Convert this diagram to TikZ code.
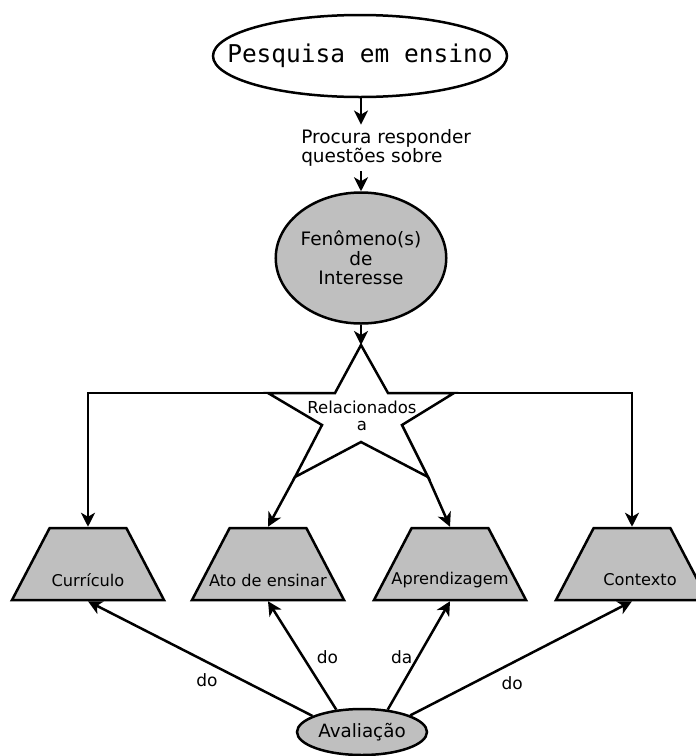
\documentclass[tikz,border=0pt]{standalone}
\usepackage{fontspec}
\setmainfont{DejaVu Sans}
\setmonofont{DejaVu Sans Mono}
\usetikzlibrary{shapes.geometric,arrows.meta}
\definecolor{boxgray}{RGB}{191,191,191}
\tikzset{
  arr/.style={-{Stealth[length=14pt,width=14pt,inset=4pt]}, line width=2.5pt},
  oval/.style={ellipse, draw, line width=2.5pt, inner sep=0pt},
  trapbox/.style={trapezium, draw, fill=boxgray, line width=2.5pt,
    trapezium stretches=true, minimum width=152pt, minimum height=72pt,
    trapezium left angle=62.5, trapezium right angle=62.5, inner sep=1pt},
  traptxt/.style={font=\fontsize{16.2}{18}\selectfont, inner sep=0pt},
  edgetxt/.style={font=\fontsize{17}{19}\selectfont, inner sep=0pt}
}
\begin{document}
\begin{tikzpicture}[x=1pt,y=-1pt,line width=2.5pt]
\useasboundingbox (0,0) rectangle (696,756);

% top question
\node[oval, minimum width=294pt, minimum height=82pt,
      font=\ttfamily\fontsize{24.5}{26}\selectfont] (top) at (360,56)
      {\makebox[0pt]{Pesquisa em ensino}};
\node[anchor=west, align=left, inner sep=4pt,
      font=\fontsize{18.5}{18.5}\selectfont] (proc) at (296,148)
      {Procura responder\\questões sobre};
\node[oval, fill=boxgray, minimum width=158pt, minimum height=131pt,
      align=center, font=\fontsize{18.5}{19.5}\selectfont] (fen) at (361,258)
      {Fenômeno(s)\\de\\Interesse};

\draw[arr] (top.south -| fen.north) -- (proc.north -| fen.north);
\draw[arr] (proc.south -| fen.north) -- (fen.north);

% star "Relacionados a"
\coordinate (T)   at (361,345);
\coordinate (uli) at (335,393);
\coordinate (L)   at (268,393);
\coordinate (li)  at (322,425);
\coordinate (LL)  at (295,477);
\coordinate (bi)  at (361,442);
\coordinate (LR)  at (428,477);
\coordinate (ri)  at (402,425);
\coordinate (R)   at (454,393);
\coordinate (uri) at (388,393);
\draw[fill=white, line join=miter]
  (T) -- (uri) -- (R) -- (ri) -- (LR) -- (bi) -- (LL) -- (li) -- (L) -- (uli) -- cycle;
\node[align=center, inner sep=0pt, font=\fontsize{16.5}{17.5}\selectfont] (rel) at (362,416)
  {Relacionados\\a};

\draw[arr] (fen.south) -- (T);

% the four aspects
\node[trapbox] (cur) at (88,564) {\phantom{x}};
\node[trapbox] (ato) at (268,564) {\phantom{x}};
\node[trapbox] (apr) at (450,564) {\phantom{x}};
\node[trapbox] (ctx) at (632,564) {\phantom{x}};
\node[traptxt] (curtxt) at ([yshift=-16pt]cur.center) {Currículo};
\node[traptxt] (atotxt) at ([yshift=-16pt]ato.center) {Ato de ensinar};
\node[traptxt] (aprtxt) at ([yshift=-16pt]apr.center) {Aprendizagem};
\node[traptxt] (ctxtxt) at ([xshift=8pt,yshift=-16pt]ctx.center) {Contexto};

\draw[arr] (L) -| (cur.north);
\draw[arr] (R) -| (ctx.north);
\draw[arr] (LL) -- (ato.north);
\draw[arr] (LR) -- (apr.north);

% evaluation
\node[oval, fill=boxgray, minimum width=130pt, minimum height=46pt,
      font=\fontsize{18.3}{20}\selectfont] (ava) at (362,732) {Avaliação};

\draw[arr] (ava.162) -- node[edgetxt, pos=0.47, yshift=-18pt] {do} (cur.south);
\draw[arr] (ava.139) -- node[edgetxt, pos=0.48, xshift=24pt] {do} (ato.south);
\draw[arr] (ava.41)  -- node[edgetxt, pos=0.48, xshift=-16pt] {da} (apr.south);
\draw[arr] (ava.19)  -- node[edgetxt, pos=0.46, yshift=-20pt] {do} (ctx.south);
\end{tikzpicture}
\end{document}
